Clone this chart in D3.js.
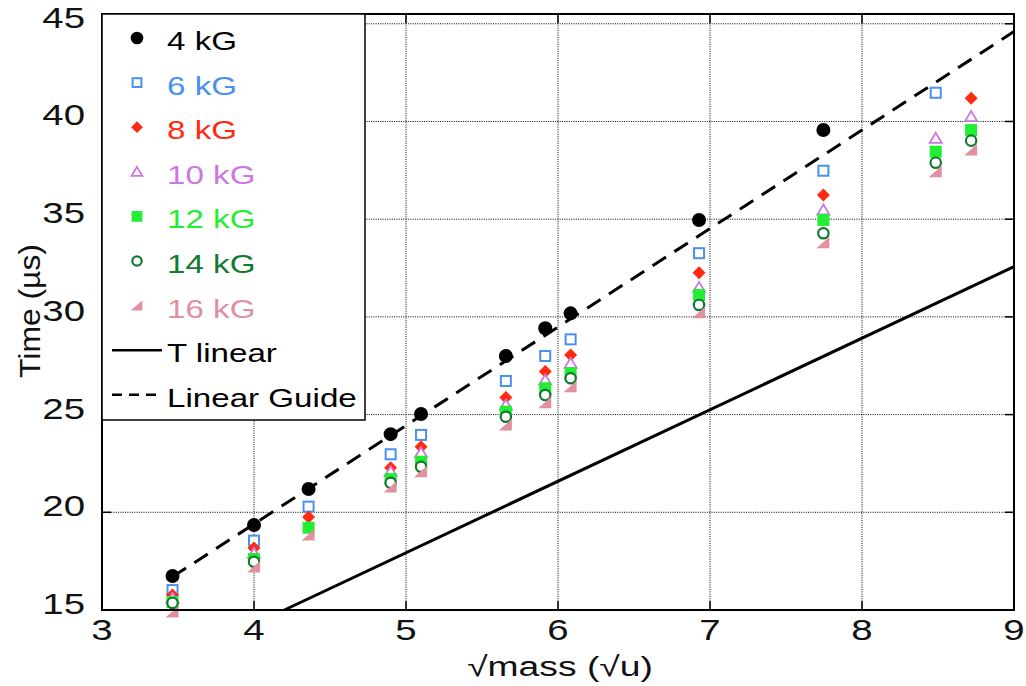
<!DOCTYPE html>
<html><head><meta charset="utf-8">
<script src="https://cdn.jsdelivr.net/npm/d3@7"></script>
<style>body{margin:0;background:#fff}svg{display:block}text{font-family:"Liberation Sans",Arial,sans-serif}</style>
</head><body>
<svg id="c" width="1026" height="686"></svg>
<script>
const xVals = [3.464, 4, 4.359, 4.899, 5.099, 5.657, 5.916, 6.083, 6.928, 7.746, 8.485, 8.718];
const kG4  = [16.74, 19.35, 21.19, 24.0, 25.03, 28.0, 29.42, 30.18, 34.96, 39.56, null, null];
const kG6  = [16.02, 18.55, 20.29, 22.97, 23.96, 26.72, 28.0, 28.85, 33.26, 37.48, 41.47, null];
const kG8  = [15.77, 18.17, 19.76, 22.28, 23.36, 25.88, 27.2, 28.05, 32.26, 36.24, null, 41.19];
const kG10 = [15.6, 17.9, null, 22.08, 23.05, 25.49, 26.77, 27.62, 31.51, 35.47, 39.14, 40.25];
const kG12 = [15.4, 17.61, 19.21, 21.7, 22.59, 25.15, 26.35, 27.11, 31.12, 34.96, 38.45, 39.56];
const kG14 = [15.36, 17.47, null, 21.51, 22.33, 24.89, 26.0, 26.86, 30.61, 34.28, 37.89, 39.02];
const kG16 = [14.9, 17.2, 18.84, 21.3, 22.08, 24.47, 25.61, 26.43, 30.21, 33.8, 37.43, 38.54];
const seriesNames = ["4 kG", "6 kG", "8 kG", "10 kG", "12 kG", "14 kG", "16 kG"];
const tLinearX = [4.2, 9];
const tLinearY = [15, 32.57];
const guideX = [3.464, 9];
const guideY = [16.7, 44.6];
const xTicks = [3, 4, 5, 6, 7, 8, 9];
const yTicks = [15, 20, 25, 30, 35, 40, 45];

const seriesValues = [kG4, kG6, kG8, kG10, kG12, kG14, kG16];
const colors = ["#000000", "#4a90f0", "#ff2a10", "#cc77e0", "#22ee33", "#117a2e", "#e090a0"];
const kinds = ["dot", "sq", "diamond", "tri", "fsq", "circ", "rtri"];

const svg = d3.select("#c");
svg.append("rect").attr("width", 1026).attr("height", 686).attr("fill", "#fff");
const L = 102, R = 1014, T = 14, B = 610;
const x = d3.scaleLinear().domain([3, 9]).range([L, R]);
const y = d3.scaleLinear().domain([15, 45.5]).range([B, T]);
const SX = 1.28;

// grid
const g = svg.append("g");
xTicks.filter(v => v > 3 && v < 9).forEach(v => {
  g.append("line").attr("x1", x(v)).attr("x2", x(v)).attr("y1", T).attr("y2", B)
    .attr("stroke", "#000").attr("stroke-width", 1).attr("stroke-dasharray", "1,1.3");
});
yTicks.filter(v => v > 15).forEach(v => {
  g.append("line").attr("x1", L).attr("x2", R).attr("y1", y(v)).attr("y2", y(v))
    .attr("stroke", "#000").attr("stroke-width", 1).attr("stroke-dasharray", "1,1.3");
});
// ticks inward
xTicks.forEach(v => {
  g.append("line").attr("x1", x(v)).attr("x2", x(v)).attr("y1", B).attr("y2", B - 9).attr("stroke", "#000").attr("stroke-width", 1.5);
  g.append("line").attr("x1", x(v)).attr("x2", x(v)).attr("y1", T).attr("y2", T + 9).attr("stroke", "#000").attr("stroke-width", 1.5);
});
yTicks.forEach(v => {
  g.append("line").attr("x1", L).attr("x2", L + 9).attr("y1", y(v)).attr("y2", y(v)).attr("stroke", "#000").attr("stroke-width", 1.5);
  g.append("line").attr("x1", R).attr("x2", R - 9).attr("y1", y(v)).attr("y2", y(v)).attr("stroke", "#000").attr("stroke-width", 1.5);
});

// lines
const line = d3.line().x(d => x(d[0])).y(d => y(d[1]));
svg.append("path").datum(tLinearX.map((v, i) => [v, tLinearY[i]])).attr("d", line)
  .attr("fill", "none").attr("stroke", "#000").attr("stroke-width", 3);
svg.append("path").datum(guideX.map((v, i) => [v, guideY[i]])).attr("d", line)
  .attr("fill", "none").attr("stroke", "#000").attr("stroke-width", 3).attr("stroke-dasharray", "16,10");

function marker(sel, kind, color, cx, cy, s) {
  s = s || 1;
  const h = 6 * s;
  if (kind === "dot") sel.append("circle").attr("cx", cx).attr("cy", cy).attr("r", 7 * s).attr("fill", color);
  else if (kind === "sq") sel.append("rect").attr("x", cx - h + 1).attr("y", cy - h + 1).attr("width", 2 * h - 2).attr("height", 2 * h - 2).attr("fill", "#fff").attr("stroke", color).attr("stroke-width", 2);
  else if (kind === "diamond") sel.append("path").attr("d", `M${cx},${cy - 6.5 * s}L${cx + 6.5 * s},${cy}L${cx},${cy + 6.5 * s}L${cx - 6.5 * s},${cy}Z`).attr("fill", color);
  else if (kind === "tri") sel.append("path").attr("d", `M${cx},${cy - 5.5 * s}L${cx + 6 * s},${cy + 4.5 * s}L${cx - 6 * s},${cy + 4.5 * s}Z`).attr("fill", "#fff").attr("stroke", color).attr("stroke-width", 1.8);
  else if (kind === "fsq") sel.append("rect").attr("x", cx - h).attr("y", cy - h).attr("width", 2 * h).attr("height", 2 * h).attr("fill", color);
  else if (kind === "circ") sel.append("circle").attr("cx", cx).attr("cy", cy).attr("r", 5.2 * s).attr("fill", "#fff").attr("stroke", color).attr("stroke-width", 2.2);
  else if (kind === "rtri") sel.append("path").attr("d", `M${cx - 7 * s},${cy + 5.5 * s}L${cx + 6 * s},${cy + 5.5 * s}L${cx + 6 * s},${cy - 6 * s}Z`).attr("fill", color);
}

const pts = svg.append("g");
seriesValues.forEach((vals, si) => {
  vals.forEach((v, i) => {
    if (v === null) return;
    marker(pts, kinds[si], colors[si], x(xVals[i]), y(v), 1);
  });
});

// frame
svg.append("rect").attr("x", L).attr("y", T).attr("width", R - L).attr("height", B - T)
  .attr("fill", "none").attr("stroke", "#000").attr("stroke-width", 2);

// tick labels
xTicks.forEach(v => {
  svg.append("text").attr("transform", `translate(${x(v)},640) scale(${SX},1)`)
    .attr("text-anchor", "middle").attr("font-size", 30).attr("fill", "#111").text(v);
});
yTicks.forEach(v => {
  svg.append("text").attr("transform", `translate(85,${y(v) + 4}) scale(${SX},1)`)
    .attr("text-anchor", "end").attr("font-size", 30).attr("fill", "#111").text(v);
});

// axis labels
svg.append("text").attr("transform", `translate(560,676) scale(1.33,1)`)
  .attr("text-anchor", "middle").attr("font-size", 28).attr("fill", "#111").text("\u221Amass (\u221Au)");
svg.append("text").attr("transform", `translate(40,311) rotate(-90) scale(1.18,1.1)`)
  .attr("text-anchor", "middle").attr("font-size", 27).attr("fill", "#111").text("Time (\u00B5s)");

// legend
const lg = svg.append("g");
lg.append("rect").attr("x", L).attr("y", T).attr("width", 263).attr("height", 406)
  .attr("fill", "#fff").attr("stroke", "#000").attr("stroke-width", 1.5);
const rowH = 44.6;
seriesNames.forEach((name, i) => {
  const by = 50 + i * rowH;
  marker(lg, kinds[i], colors[i], 137, by - 12, 0.9);
  lg.append("text").attr("transform", `translate(167,${by}) scale(1.3,1)`)
    .attr("font-size", 25.5).attr("fill", colors[i]).text(name);
});
const byT = 50 + 7 * rowH;
lg.append("line").attr("x1", 112).attr("x2", 162).attr("y1", byT - 12).attr("y2", byT - 12).attr("stroke", "#000").attr("stroke-width", 2.5);
lg.append("text").attr("transform", `translate(167,${byT}) scale(1.3,1)`).attr("font-size", 25.5).attr("fill", "#000").text("T linear");
const byG = 50 + 8 * rowH;
lg.append("line").attr("x1", 112).attr("x2", 162).attr("y1", byG - 12).attr("y2", byG - 12).attr("stroke", "#000").attr("stroke-width", 2.5).attr("stroke-dasharray", "10,7");
lg.append("text").attr("transform", `translate(167,${byG}) scale(1.3,1)`).attr("font-size", 25.5).attr("fill", "#000").text("Linear Guide");
</script>
</body></html>
